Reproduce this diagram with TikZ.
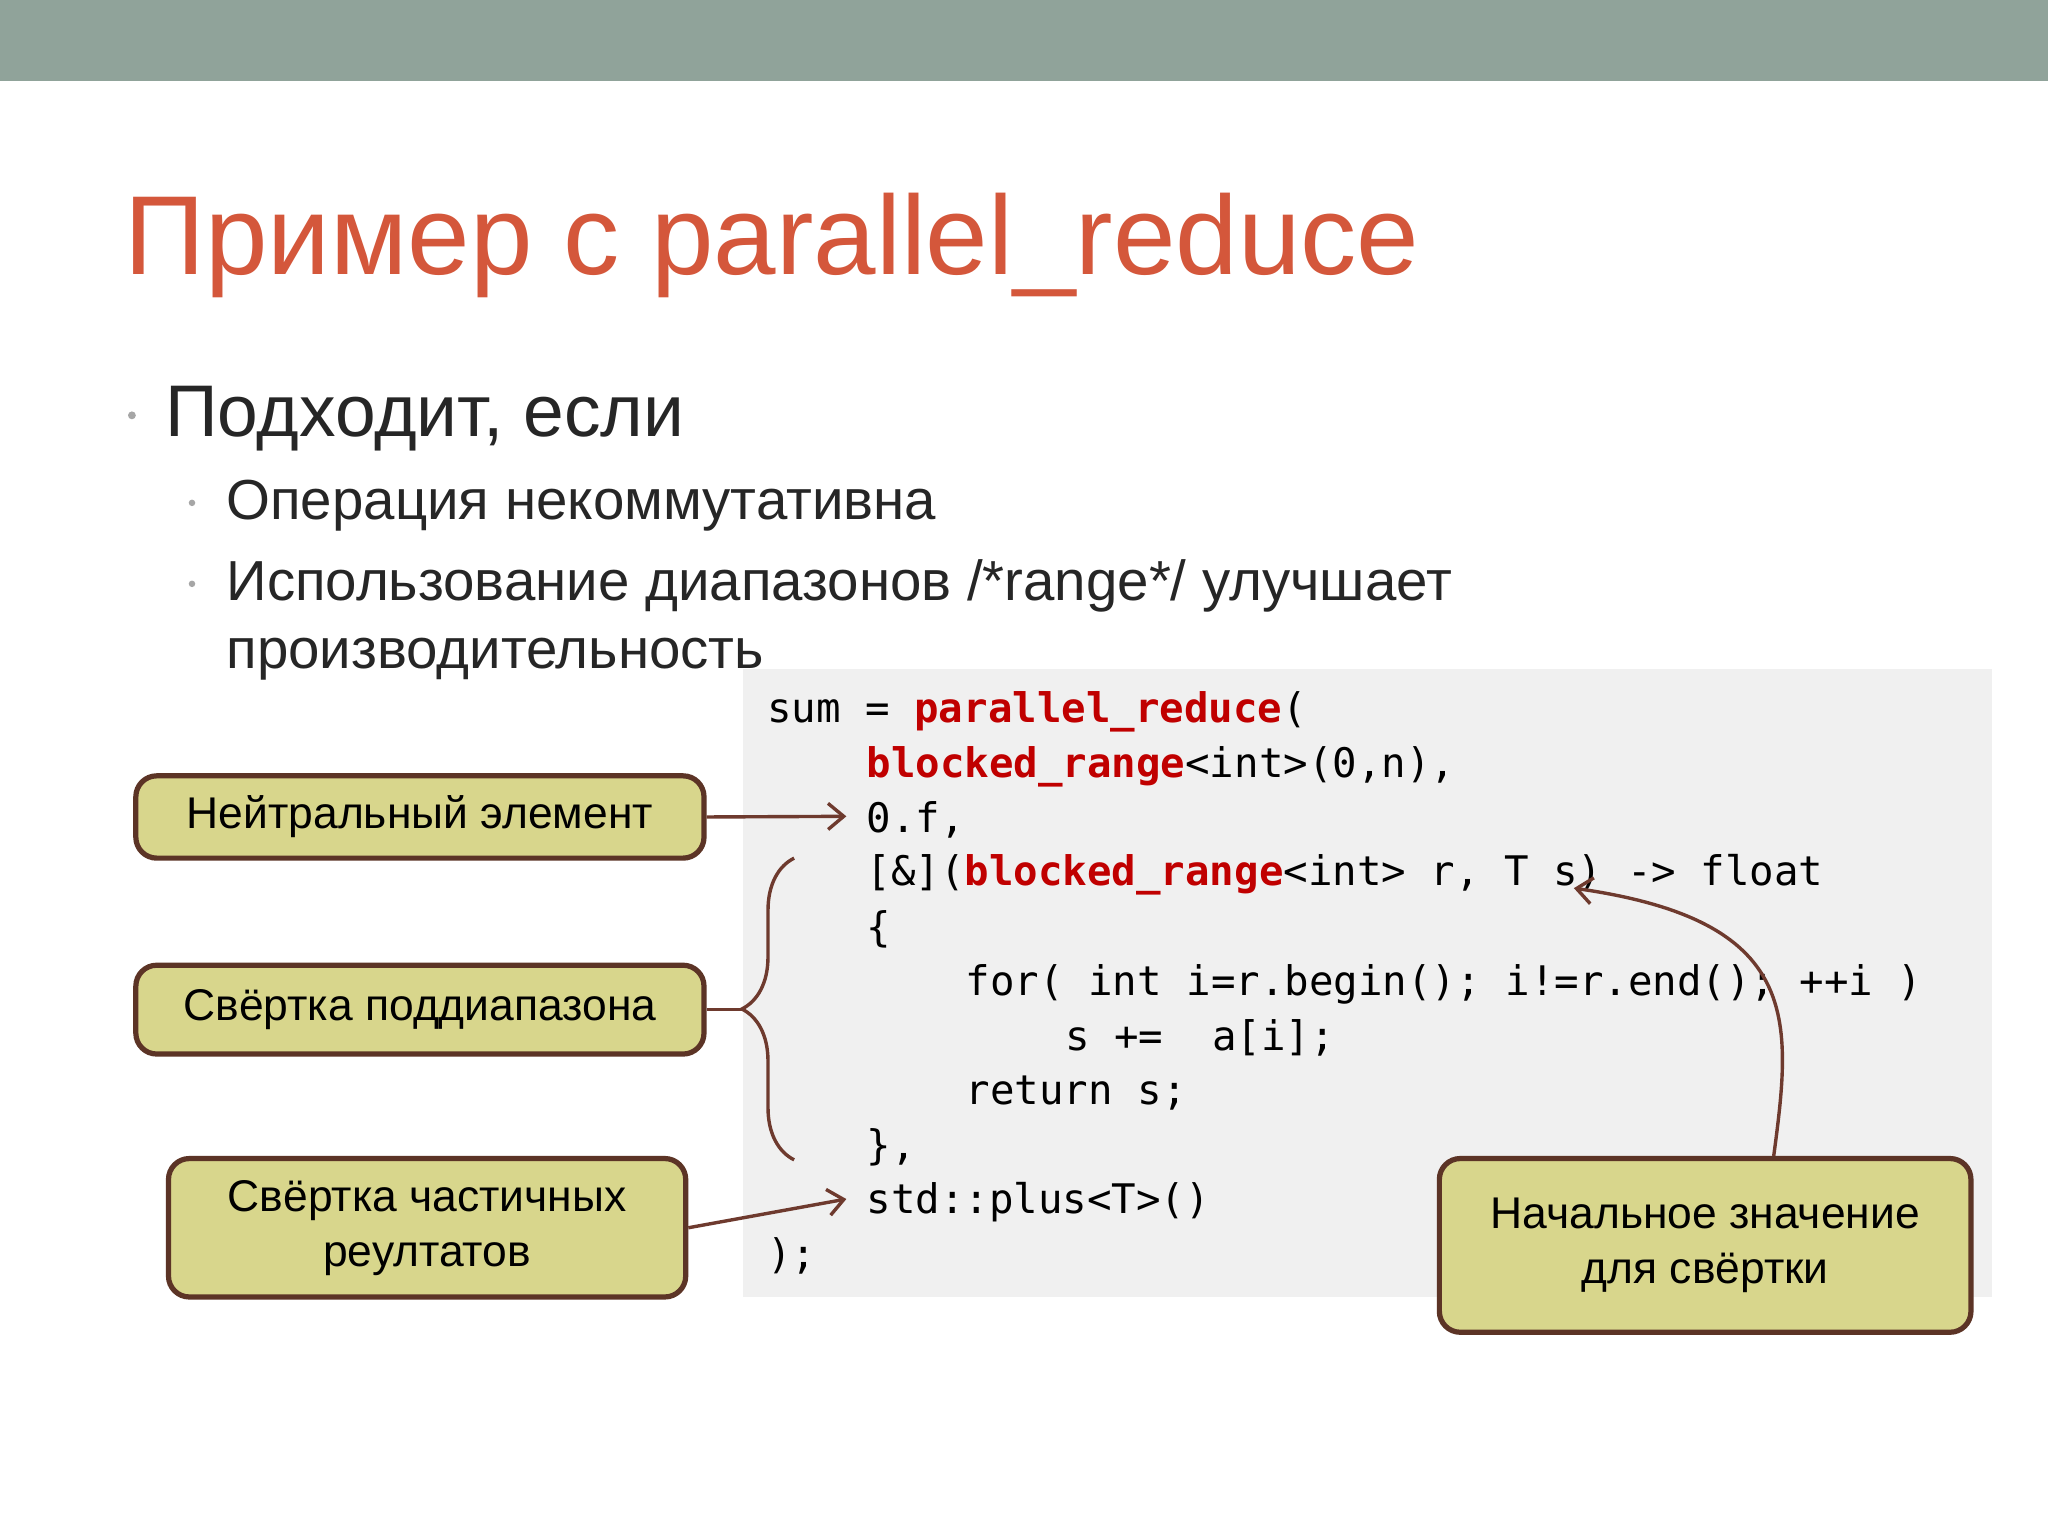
\documentclass[tikz,border=0pt]{standalone}
\usepackage{fontspec}
\setmainfont{Liberation Sans}
\newfontfamily\codef{DejaVu Sans Mono}
\usetikzlibrary{decorations.pathreplacing,arrows.meta}
\definecolor{barc}{HTML}{90A39A}
\definecolor{titlec}{HTML}{D4573B}
\definecolor{boxf}{HTML}{D8D68C}
\definecolor{boxd}{HTML}{5C3426}
\definecolor{arr}{HTML}{6E3A2E}
\definecolor{kw}{HTML}{C00000}
\definecolor{codebg}{HTML}{F0F0F0}
\newcommand{\kwd}[1]{\textcolor{kw}{\bfseries #1}}
\tikzset{
  cl/.style={anchor=base west,inner sep=0pt,font=\codef\fontsize{15.6pt}{18pt}\selectfont},
  lbl/.style={draw=boxd,line width=2pt,fill=boxf,rounded corners=8pt,align=center,font=\fontsize{17pt}{21pt}\selectfont,inner sep=0pt},
  ar/.style={draw=arr,line width=1.3pt,-{Straight Barb[length=6pt,width=10pt]}},
  txt/.style={anchor=base west,inner sep=0pt}
}
\begin{document}
\begin{tikzpicture}[x=0.5pt,y=-0.5pt]
\useasboundingbox (0,0) rectangle (1568,1176);
\fill[white] (0,0) rectangle (1568,1176);
\fill[barc] (0,0) rectangle (1568,62);
\node[txt,text=titlec,font=\fontsize{43pt}{50pt}\selectfont] (title) at (95,210) {Пример с parallel\_reduce};
\fill[gray!70] (101,318) circle (3);
\node[txt,font=\fontsize{28pt}{32pt}\selectfont,text=black!85] (b1) at (126,334) {Подходит, если};
\fill[gray!70] (147,385) circle (2.5);
\fill[gray!70] (147,447) circle (2.5);
\node[txt,font=\fontsize{21.6pt}{26pt}\selectfont,text=black!85] (b2) at (173,398) {Операция некоммутативна};
\node[txt,font=\fontsize{21.6pt}{26pt}\selectfont,text=black!85] (b3) at (173,460) {Использование диапазонов /*range*/ улучшает};
\node[txt,font=\fontsize{21.6pt}{26pt}\selectfont,text=black!85] (b4) at (173,512) {производительность};
\fill[codebg] (569,512) rectangle (1525,993);
\node[cl] (c1) at (587,553) {sum = \kwd{parallel\_reduce}(};
\node[cl] (c2) at (663,595) {\kwd{blocked\_range}<int>(0,n),};
\node[cl] (c3) at (663,637) {0.f,};
\node[cl] (c4) at (663,678) {[\&](\kwd{blocked\_range}<int> r, T s) -> float};
\node[cl] (c5) at (663,721) {\{};
\node[cl] (c6) at (739,762) {for( int i=r.begin(); i!=r.end(); ++i )};
\node[cl] (c7) at (815,804) {s +=\ \ a[i];};
\node[cl] (c8) at (739,846) {return s;};
\node[cl] (c9) at (663,888) {\},};
\node[cl] (c10) at (663,929) {std::plus<T>()};
\node[cl] (c11) at (587,971) {);};
\node[lbl,minimum width=217.5pt,minimum height=31.5pt] (l1) at (321.5,625.5) {Нейтральный элемент};
\node[lbl,minimum width=217.5pt,minimum height=34pt] (l2) at (321.5,773) {Свёртка поддиапазона};
\node[lbl,minimum width=198pt,minimum height=53pt] (l3) at (327,940) {Свёртка частичных\\реултатов};
\node[lbl,minimum width=203.5pt,minimum height=66.5pt] (l4) at (1305.5,953.5) {Начальное значение\\для свёртки};
\coordinate (t1) at (648,625);
\coordinate (t3) at (648,918);
\coordinate (t4) at (1205,680);
\draw[ar] (l1.east) -- (t1);
\draw[ar] (l3.east) -- (t3);
\draw[ar] (l4.north -| 1358,0) .. controls (1372,780) and (1380,705) .. (t4);
\coordinate (bt) at (608,888);
\coordinate (bb) at (608,657);
\draw[arr,line width=1.3pt,decorate,decoration={brace,amplitude=20pt,aspect=0.5}] (bt) -- (bb);
\draw[arr,line width=1.3pt] (l2.east) -- (570,773);
\end{tikzpicture}
\end{document}
